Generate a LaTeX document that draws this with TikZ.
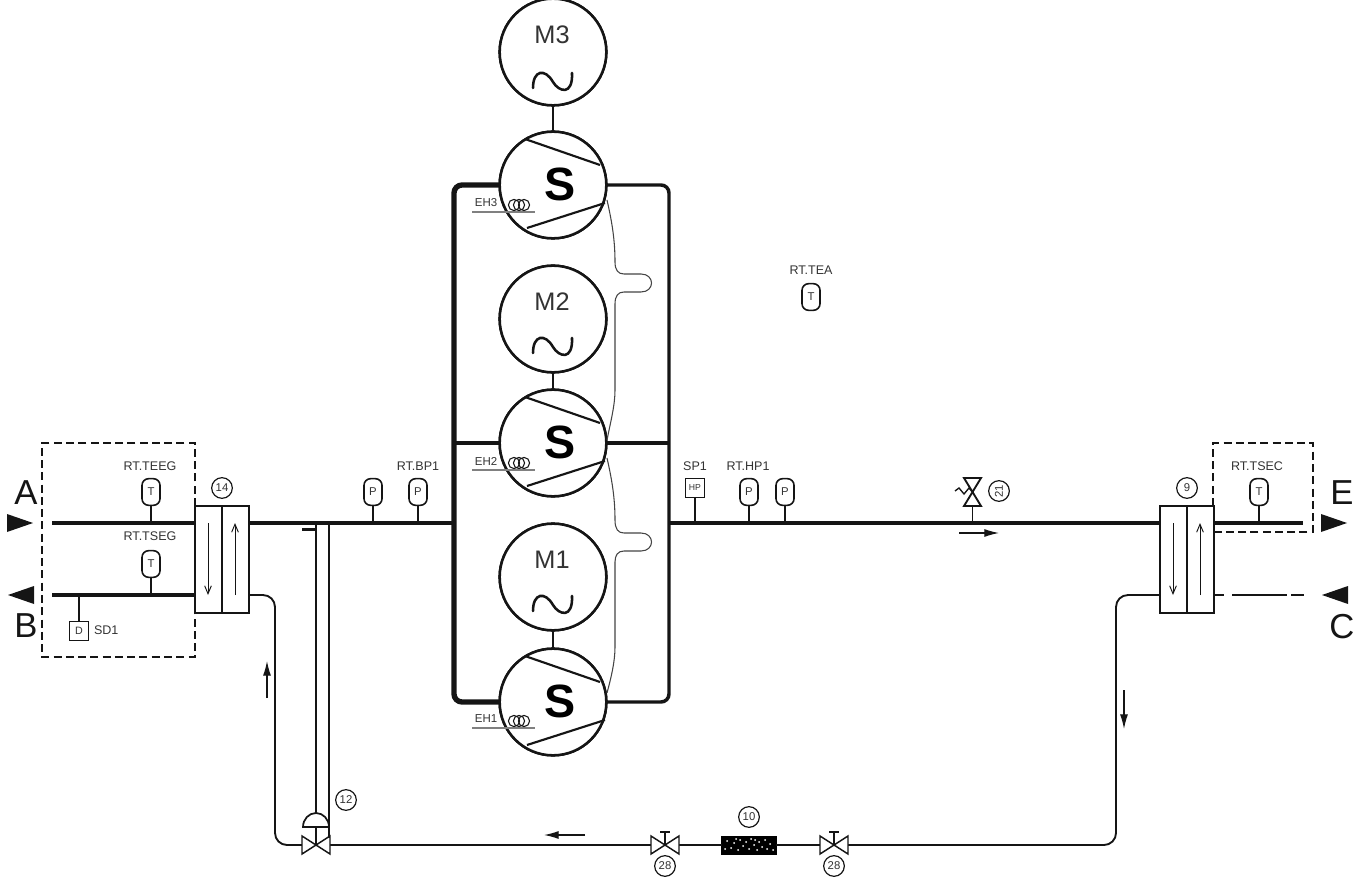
\documentclass[tikz,border=0pt]{standalone}
\usepackage{fontspec}
\setmainfont{Liberation Sans}
\usetikzlibrary{arrows.meta,calc}
\definecolor{ink}{HTML}{151515}
\definecolor{txt}{HTML}{333333}
\tikzset{
  x=0.75pt,y=-0.75pt,
  every node/.style={inner sep=0pt,outer sep=0pt,text=txt},
  pipe/.style={draw=ink,line width=2.6pt},
  thinpipe/.style={draw=ink,line width=1.4pt},
  fatpipe/.style={draw=ink,line width=3.6pt},
  bus/.style={draw=ink,line width=4pt,rounded corners=6pt},
  wire/.style={draw=ink,line width=1.1pt},
  hair/.style={draw=ink!80,line width=0.8pt},
  stem/.style={draw=ink,line width=1.1pt},
  machine/.style={circle,draw=ink,line width=1.9pt,minimum size=80pt},
  sensor/.style={draw=ink,line width=1.2pt,rounded corners=5pt,minimum width=13.5pt,minimum height=20pt,font=\fontsize{8.5}{9}\selectfont},
  sqsensor/.style={draw=ink,line width=1.2pt,minimum width=14pt,minimum height=14pt,font=\fontsize{8}{9}\selectfont},
  lab/.style={font=\fontsize{9.4}{10}\selectfont},
  tag/.style={circle,draw=ink,line width=0.9pt,minimum size=15.5pt,font=\fontsize{8.5}{9}\selectfont},
  big/.style={font=\fontsize{26}{28}\selectfont,text=ink},
  mlab/.style={font=\fontsize{19}{20}\selectfont},
  slab/.style={font=\fontsize{35}{37}\selectfont\bfseries,text=black},
  exch/.style={draw=ink,line width=1.4pt,minimum width=40.5pt,minimum height=80pt},
  box/.style={draw=ink,line width=1.1pt,dash pattern=on 6pt off 3.2pt},
  valvebody/.style={minimum width=21pt,minimum height=13pt},
  flow/.style={draw=ink,line width=0.9pt,-{Latex[length=11pt,width=6pt]}},
  inner/.style={draw=ink,line width=0.7pt,-{Straight Barb[length=6pt,width=5pt]}},
}
\newcommand{\compblades}[1]{%
  \draw[ink,line width=1.6pt] ($(#1)+(-28,-46)$) -- ($(#1)+(47,-20)$);
  \draw[ink,line width=1.6pt] ($(#1)+(-26,43)$) -- ($(#1)+(52,18)$);
  \node[slab] at ($(#1)+(7,-1)$) {S};
}
\newcommand{\acwave}[1]{%
  \draw[ink,line width=1.9pt,line cap=round,shift={(#1)}] (-20,6) .. controls (-20,-12) and (-8,-14) .. (0,0) .. controls (6,10) and (20,14) .. (19,-9);
}
\newcommand{\heater}[5]{% name, label, text y, coil y, line y
  \node[font=\fontsize{8.6}{9}\selectfont] (#1) at (486,#3) {#2};
  \draw[draw=gray,line width=1.1pt] (472,#5) -- (535,#5);
  \foreach \cx in {514,519,524} \draw[ink,line width=0.8pt] (\cx,#4) circle [radius=4.2pt];
}
\newcommand{\handvalve}[1]{%
  \draw[draw=ink,line width=1.1pt,fill=white] ($(#1)+(-14,-9)$) -- ($(#1)+(14,9)$) -- ($(#1)+(14,-9)$) -- ($(#1)+(-14,9)$) -- cycle;
}
\begin{document}
\begin{tikzpicture}
\useasboundingbox (0,0) rectangle (1364,877);
% machines
\node[machine] (M3) at (553,52) {};
\node[machine] (S3) at (553,185) {};
\node[machine] (M2) at (553,319) {};
\node[machine] (S2) at (553,443) {};
\node[machine] (M1) at (553,577) {};
\node[machine] (S1) at (553,702) {};
\foreach \a/\b in {M3/S3,M2/S2,M1/S1} \draw[stem] (\a) -- (\b);
\foreach \a in {M3,S3,M2,S2,M1,S1} \node[machine,fill=white] at (\a) {};
\compblades{S3}\compblades{S2}\compblades{S1}
\node[mlab] (tM3) at (552,35) {M3}; \acwave{553,82}
\node[mlab] (tM2) at (552,302) {M2}; \acwave{553,347}
\node[mlab] (tM1) at (552,560) {M1}; \acwave{553,605}
\heater{EH3}{EH3}{203}{205}{212}
\heater{EH2}{EH2}{461}{463}{470}
\heater{EH1}{EH1}{719}{721}{728}
% buses
\coordinate (busTL) at (454,185); \coordinate (busBL) at (454,702);
\coordinate (busTR) at (669,185); \coordinate (busBR) at (669,702);
\draw[bus] (S3.west |- busTL) -- (busTL) -- (busBL) -- (S1.west |- busBL);
\draw[fatpipe] (S2.west) -- (busTL |- S2.west);
\draw[pipe,rounded corners=6pt] (S3.east |- busTR) -- (busTR) -- (busBR) -- (S1.east |- busBR);
\draw[pipe] (S2.east) -- (busTR |- S2.east);
% thin oil lines
\draw[hair] (607,200) .. controls (612,222) and (615,240) .. (615,262) .. controls (615,270) and (618,274) .. (624,274) -- (641,274) .. controls (655,274) and (655,292) .. (641,292) -- (624,292) .. controls (618,292) and (615,296) .. (615,304) -- (615,390) .. controls (615,405) and (611,420) .. (607,440);
\draw[hair] (607,458) .. controls (612,480) and (615,498) .. (615,520) .. controls (615,529) and (618,533) .. (624,533) -- (641,533) .. controls (655,533) and (655,551) .. (641,551) -- (624,551) .. controls (618,551) and (615,555) .. (615,562) -- (615,647) .. controls (615,662) and (611,678) .. (607,693);
% exchangers
\node[exch,fill=white] (ex14) at (222,559.5) {};
\node[exch,fill=white] (ex9) at (1187,559.5) {};
\foreach \e in {ex14,ex9} \draw[draw=ink,line width=1.4pt] (\e.north) -- (\e.south);
\coordinate (lnA) at (52,523); \coordinate (lnB) at (52,595);
\coordinate (lnE) at (1303,523); \coordinate (lnC) at (1304,595);
\draw[pipe] (lnA) -- (ex14.west |- lnA);
\draw[pipe] (lnB) -- (ex14.west |- lnB);
\draw[fatpipe] (ex14.east |- lnA) -- (busTL |- lnA);
\draw[pipe] (busTR |- lnA) -- (ex9.west |- lnA);
\draw[pipe] (ex9.east |- lnE) -- (lnE);
\draw[draw=ink,line width=1.1pt,dash pattern=on 7.5pt off 6pt on 41pt off 3.5pt on 10.5pt off 20pt] (ex9.east |- lnC) -- (lnC);
\foreach \xx in {208,1173} \draw[inner] (\xx,523) -- (\xx,595);
\foreach \xx in {235,1200} \draw[inner] (\xx,595) -- (\xx,523);
% valves and filter
\node[valvebody] (v12) at (316,845) {};
\node[valvebody] (v28a) at (665,845) {};
\node[valvebody] (v28b) at (834,845) {};
\node[draw=black,fill=black,minimum width=41pt,minimum height=13.5pt] (filt) at (749,845) {};
\draw[thinpipe,rounded corners=9pt] (ex14.east |- lnB) -- (275,595) -- (275,845) -- (v12.west);
\draw[thinpipe] (v12.east) -- (v28a.west);
\draw[thinpipe] (v28a.east) -- (filt.west);
\draw[thinpipe] (filt.east) -- (v28b.west);
\draw[thinpipe,rounded corners=9pt] (v28b.east) -- (1116,845) -- (1116,595) -- (ex9.west |- lnB);
\handvalve{v12}\handvalve{v28a}\handvalve{v28b}
\foreach \v in {v28a,v28b} {
  \draw[stem] (\v.center) -- ($(\v.center)+(0,-13)$);
  \draw[stem] ($(\v.center)+(-5,-13)$) -- ($(\v.center)+(5,-13)$);
}
\foreach \dx/\dy in {-22/-4,-18/3,-15/-2,-11/5,-9/-5,-6/1,-3/-3,0/4,2/-6,5/0,8/5,10/-3,13/2,16/-5,18/4,21/-1,24/5,-24/4,-13/-6,6/-5}
  \fill[white] ($(filt.center)+(\dx,\dy)$) circle [radius=0.75pt];
% control valve actuator
\coordinate (tapA) at (316,523); \coordinate (tapB) at (329,523);
\draw[wire] (tapA) -- (316,813);
\draw[wire] (tapB) -- (329,838);
\coordinate (act) at (316,827);
\draw[draw=ink,line width=1.3pt,fill=white] (303,827) arc[start angle=180,end angle=360,x radius=13,y radius=14] -- cycle;
\draw[stem] (act) -- (v12.center);
\draw[draw=ink,line width=2pt] (302,529.5) -- (316,529.5);
% dashed boxes
\draw[box] (195,506) -- (195,443) -- (42,443) -- (42,657) -- (195,657) -- (195,613);
\draw[box] (1213,506) -- (1213,443) -- (1313,443) -- (1313,532) -- (1214,532);
% sensors
\node[sensor] (tEEG) at (151,492) {T};
\node[sensor] (tSEG) at (151,564) {T};
\node[sqsensor] (dSD) at (79,631) {D};
\node[sensor] (p1) at (373,492) {P};
\node[sensor] (p2) at (418,492) {P};
\node[sqsensor] (hp) at (695,488) {\fontsize{6.5}{7}\selectfont HP};
\node[sensor] (p3) at (749,492) {P};
\node[sensor] (p4) at (785,492) {P};
\node[sensor] (tSEC) at (1259,492) {T};
\node[sensor] (tTEA) at (811,297) {T};
\foreach \s/\l in {tEEG/lnA,p1/lnA,p2/lnA,hp/lnA,p3/lnA,p4/lnA,tSEC/lnA} \draw[stem] (\s.south) -- (\s.south |- \l);
\draw[stem] (tSEG.south) -- (tSEG.south |- lnB);
\draw[stem] (dSD.north) -- (dSD.north |- lnB);
\node[lab] (l1) at (150,466) {RT.TEEG};
\node[lab] (l2) at (150,536) {RT.TSEG};
\node[lab,anchor=west] (l3) at (94,630) {SD1};
\node[lab] (l4) at (418,466) {RT.BP1};
\node[lab] (l5) at (695,466) {SP1};
\node[lab] (l6) at (748,466) {RT.HP1};
\node[lab] (l7) at (811,270) {RT.TEA};
\node[lab] (l8) at (1257,466) {RT.TSEC};
% relief valve 21
\coordinate (rv) at (972,492);
\draw[draw=ink,line width=1.4pt] (964,478) -- (981,478) -- (964,506) -- (981,506) -- cycle;
\draw[stem] (972.5,506) -- (972.5,523);
\draw[draw=ink,line width=1pt] (955,491) -- (959,488) -- (964,494) -- (969,488) -- (972.5,492);
% tags
\node[tag] (c14) at (222,488) {14};
\node[tag] (c9) at (1187,488) {9};
\node[tag] (c12) at (346,800) {12};
\node[tag] (c10) at (749,817) {10};
\node[tag] (c28a) at (665,866) {28};
\node[tag] (c28b) at (834,866) {28};
\node[tag,rotate=90] (c21) at (999,491) {21};
% flow arrows
\coordinate (f1a) at (999,533); \coordinate (f1b) at (959,533);
\draw[flow] (f1b) -- (f1a);
\coordinate (f2a) at (585,835); \coordinate (f2b) at (544,835);
\draw[flow] (f2a) -- (f2b);
\coordinate (f3a) at (267,698); \coordinate (f3b) at (267,661);
\draw[flow] (f3a) -- (f3b);
\coordinate (f4a) at (1124,690); \coordinate (f4b) at (1124,729);
\draw[flow] (f4a) -- (f4b);
% terminal arrowheads and letters
\fill[ink] (7,514) -- (33,523) -- (7,532) -- cycle;
\fill[ink] (34,586) -- (8,595) -- (34,604) -- cycle;
\fill[ink] (1321,514) -- (1347,523) -- (1321,532) -- cycle;
\fill[ink] (1348,586) -- (1322,595) -- (1348,604) -- cycle;
\node[big] (A) at (26,493) {A};
\node[big] (B) at (26,626) {B};
\node[big] (E) at (1342,493) {E};
\node[big] (C) at (1342,627) {C};
\end{tikzpicture}
\end{document}
